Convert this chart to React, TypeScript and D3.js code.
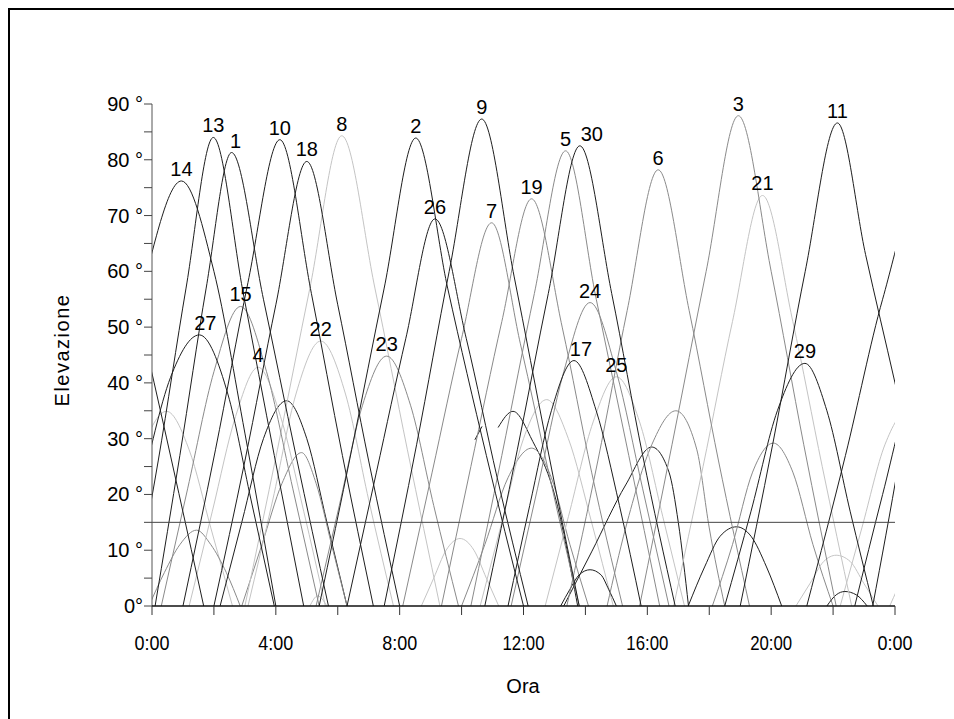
import React from "react";
import * as d3 from "d3";

type Pt = [number, number]; // [ora, elevazione in gradi]

// passaggi dei satelliti (ore, gradi)
const sv14: Pt[] = [[-2.85, 0], [-1.6, 27], [-0.4, 55], [0.95, 76.2], [2.0, 60], [3.0, 31], [4.0, 0]];
const sv14b: Pt[] = [[21.15, 0], [22.4, 27], [23.6, 55], [24.95, 76.2], [25.9, 60]];
const sv13: Pt[] = [[-0.65, 0], [0.2, 26], [1.1, 57], [1.98, 84], [2.95, 56], [3.95, 27], [4.9, 0]];
const sv13b: Pt[] = [[23.28, 0], [24.13, 26], [25.03, 57], [25.9, 84]];
const sv27: Pt[] = [[-1.3, 0], [-0.4, 20], [0.6, 41], [1.53, 48.6], [2.45, 38], [3.2, 19], [3.95, 0]];
const sv27b: Pt[] = [[22.7, 0], [23.6, 20], [24.6, 41], [25.5, 48.6]];
const sv1: Pt[] = [[0.1, 0], [0.9, 27], [1.75, 57], [2.57, 81.3], [3.6, 55], [4.65, 27], [5.7, 0]];
const sv11: Pt[] = [[19.0, 0], [20.05, 29], [21.1, 60], [22.14, 86.6], [23.05, 63], [24.0, 40], [25.6, 0]];
const sv11b: Pt[] = [[-4.93, 0], [-3.88, 29], [-2.83, 60], [-1.79, 86.6], [-0.88, 63], [0.07, 40], [1.67, 0]];
const sv10: Pt[] = [[1.0, 0], [2.05, 28], [3.1, 58], [4.13, 83.6], [5.15, 56], [6.15, 27], [7.15, 0]];
const sv18: Pt[] = [[2.0, 0], [3.0, 26], [4.0, 54], [5.0, 79.7], [6.0, 54], [7.0, 26], [8.0, 0]];
const sv8: Pt[] = [[3.0, 0], [4.05, 28], [5.1, 57], [6.13, 84.3], [7.2, 57], [8.25, 28], [9.3, 0]];
const sv2: Pt[] = [[5.4, 0], [6.45, 28], [7.5, 57], [8.52, 83.9], [9.55, 57], [10.8, 27], [12.0, 0]];
const sv26: Pt[] = [[6.3, 0], [7.25, 24], [8.2, 48], [9.14, 69.4], [10.15, 48], [11.15, 23], [12.15, 0]];
const sv9: Pt[] = [[7.5, 0], [8.55, 29], [9.6, 60], [10.65, 87.3], [11.7, 59], [12.75, 29], [13.8, 0]];
const sv7: Pt[] = [[8.1, 0], [9.05, 24], [10.0, 48], [10.97, 68.7], [11.9, 47], [12.85, 23], [13.8, 0]];
const sv19: Pt[] = [[9.35, 0], [10.3, 25], [11.3, 51], [12.26, 73], [13.25, 50], [14.2, 24], [15.2, 0]];
const sv5: Pt[] = [[10.3, 0], [11.3, 27], [12.35, 56], [13.36, 81.6], [14.35, 55], [15.4, 27], [16.4, 0]];
const sv30: Pt[] = [[10.75, 0], [11.8, 28], [12.8, 56], [13.82, 82.5], [14.85, 56], [15.85, 27], [16.9, 0]];
const sv24: Pt[] = [[11.6, 0], [12.45, 21], [13.3, 42], [14.15, 54.4], [15.0, 42], [15.85, 21], [16.7, 0]];
const sv6: Pt[] = [[13.4, 0], [14.4, 26], [15.35, 53], [16.35, 78.2], [17.35, 53], [18.3, 26], [19.3, 0]];
const sv3: Pt[] = [[15.75, 0], [16.8, 29], [17.9, 60], [18.94, 87.9], [20.0, 60], [21.05, 29], [22.1, 0]];
const sv21: Pt[] = [[16.85, 0], [17.8, 25], [18.75, 51], [19.72, 73.6], [20.7, 51], [21.65, 25], [22.6, 0]];
const sv15: Pt[] = [[0.3, 0], [1.15, 21], [2.0, 42], [2.86, 53.7], [3.7, 42], [4.55, 21], [5.4, 0]];
const sv4: Pt[] = [[1.2, 0], [1.95, 17], [2.7, 34], [3.43, 42.8], [4.15, 34], [4.9, 17], [5.6, 0]];
const sv22: Pt[] = [[3.1, 0], [3.9, 19], [4.65, 38], [5.45, 47.5], [6.25, 38], [7.0, 19], [7.8, 0]];
const sv23: Pt[] = [[5.3, 0], [6.05, 18], [6.8, 36], [7.58, 44.8], [8.35, 36], [9.1, 18], [9.9, 0]];
const sv17: Pt[] = [[11.5, 0], [12.2, 18], [12.9, 35], [13.63, 44], [14.35, 35], [15.1, 18], [15.8, 0]];
const sv25: Pt[] = [[12.7, 0], [13.45, 16], [14.25, 33], [15.0, 41.1], [15.75, 33], [16.5, 16], [17.2, 0]];
const sv29: Pt[] = [[18.5, 0], [19.35, 17], [20.2, 35], [21.09, 43.5], [21.8, 35], [22.55, 17], [23.3, 0]];

// passaggi senza etichetta
const passA: Pt[] = [[-1.7, 0], [-1.0, 14], [-0.25, 29], [0.47, 34.9], [1.2, 28], [1.9, 14], [2.6, 0]];
const passAb: Pt[] = [[22.23, 0], [22.93, 14], [23.68, 29], [24.4, 34.9], [25.13, 28]];
const passB: Pt[] = [[-0.1, 0], [0.4, 6], [0.9, 11], [1.44, 13.6], [1.9, 11], [2.4, 6], [2.85, 0]];
const passBb: Pt[] = [[23.83, 0], [24.33, 6], [24.83, 11]];
const passC: Pt[] = [[2.2, 0], [2.9, 15], [3.6, 30], [4.35, 36.8], [5.0, 30], [5.65, 15], [6.3, 0]];
const passD: Pt[] = [[2.9, 0], [3.55, 11], [4.2, 22], [4.83, 27.5], [5.3, 22], [5.8, 11], [6.3, 0]];
const passE: Pt[] = [[5.1, 0], [5.35, 1.8], [5.65, 0]];
const passF1: Pt[] = [[10.43, 29.8], [10.66, 32.2]];
const passF2: Pt[] = [[11.18, 32], [11.66, 34.9], [12.3, 29.5], [12.95, 21], [13.75, 0]];
const passG: Pt[] = [[10.0, 0], [10.75, 11], [11.5, 23], [12.26, 28.3], [12.9, 23], [13.5, 11], [14.1, 0]];
const passH: Pt[] = [[10.6, 0], [11.3, 15], [12.0, 30], [12.75, 37], [13.45, 30], [14.2, 15], [14.9, 0]];
const passI: Pt[] = [[8.7, 0], [9.1, 5], [9.5, 10], [9.95, 12.1], [10.4, 10], [10.8, 5], [11.2, 0]];
const passJ: Pt[] = [[13.2, 0], [13.5, 3], [13.8, 5.6], [14.15, 6.5], [14.5, 5.6], [14.75, 3], [15.0, 0]];
const passK: Pt[] = [[13.3, 0], [14.2, 9.7], [15.3, 21.7], [16.14, 28.5], [16.7, 24], [17.0, 15], [17.33, 0]];
const passL: Pt[] = [[14.7, 0], [15.3, 14], [16.15, 29], [16.92, 35], [17.6, 28], [18.0, 14], [18.5, 0]];
const passM: Pt[] = [[17.32, 0], [17.85, 7], [18.35, 12.5], [18.88, 14.2], [19.35, 12.5], [19.85, 7], [20.34, 0]];
const passN: Pt[] = [[18.1, 0], [18.75, 11], [19.4, 24], [20.07, 29.2], [20.7, 24], [21.35, 11], [22.0, 0]];
const passO: Pt[] = [[20.8, 0], [21.25, 4], [21.7, 8], [22.1, 9.1], [22.55, 8], [23.0, 4], [23.45, 0]];
const passP: Pt[] = [[21.8, 0], [22.1, 2], [22.38, 2.6], [22.75, 2], [23.1, 0]];

const hourTicks = [0, 2, 4, 6, 8, 10, 12, 14, 16, 18, 20, 22, 24];
const hourLabels = ["0:00", "4:00", "8:00", "12:00", "16:00", "20:00", "0:00"];
const elevTicks = [0, 5, 10, 15, 20, 25, 30, 35, 40, 45, 50, 55, 60, 65, 70, 75, 80, 85, 90];
const maskAngle = 15;

const tone = { k: "#1e1e1e", g: "#8a8a8a", l: "#c4c4c4" };

const passes: { pts: Pt[]; c: keyof typeof tone; label?: string; dx?: number }[] = [
  { pts: passA, c: "l" }, { pts: passAb, c: "l" }, { pts: passB, c: "g" }, { pts: passBb, c: "l" },
  { pts: passC, c: "k" }, { pts: passD, c: "g" }, { pts: passE, c: "l" },
  { pts: passF1, c: "k" }, { pts: passF2, c: "k" }, { pts: passG, c: "g" }, { pts: passH, c: "l" },
  { pts: passI, c: "l" }, { pts: passJ, c: "k" }, { pts: passK, c: "k" }, { pts: passL, c: "g" },
  { pts: passM, c: "k" }, { pts: passN, c: "g" }, { pts: passO, c: "l" }, { pts: passP, c: "k" },
  { pts: sv8, c: "l", label: "8" }, { pts: sv21, c: "l", label: "21" }, { pts: sv4, c: "l", label: "4" },
  { pts: sv22, c: "l", label: "22" }, { pts: sv25, c: "l", label: "25" },
  { pts: sv7, c: "g", label: "7" }, { pts: sv19, c: "g", label: "19" }, { pts: sv5, c: "g", label: "5" },
  { pts: sv24, c: "g", label: "24" }, { pts: sv6, c: "g", label: "6" }, { pts: sv3, c: "g", label: "3" },
  { pts: sv15, c: "g", label: "15" }, { pts: sv23, c: "g", label: "23" },
  { pts: sv14, c: "k", label: "14" }, { pts: sv14b, c: "k" }, { pts: sv13, c: "k", label: "13" },
  { pts: sv13b, c: "k" }, { pts: sv27, c: "k", label: "27", dx: 6 }, { pts: sv27b, c: "k" },
  { pts: sv1, c: "k", label: "1", dx: 4 }, { pts: sv11, c: "k", label: "11" }, { pts: sv11b, c: "k" },
  { pts: sv10, c: "k", label: "10" }, { pts: sv18, c: "k", label: "18" }, { pts: sv2, c: "k", label: "2" },
  { pts: sv26, c: "k", label: "26" }, { pts: sv9, c: "k", label: "9" }, { pts: sv30, c: "k", label: "30", dx: 12 },
  { pts: sv17, c: "k", label: "17", dx: 7 }, { pts: sv29, c: "k", label: "29" },
];

const W = 954;
const H = 719;
const font = "'Liberation Sans', Arial, sans-serif";

export default function App() {
  const x = d3.scaleLinear().domain([0, 24]).range([152, 895]);
  const y = d3.scaleLinear().domain([0, 90]).range([606, 104]);
  const line = d3
    .line<Pt>()
    .x((d) => x(d[0]))
    .y((d) => y(d[1]))
    .curve(d3.curveMonotoneX);

  return (
    <svg
      width={W}
      height={H}
      style={{ position: "absolute", left: 0, top: 0, background: "#fff", fontFamily: font }}
    >
      <defs>
        <clipPath id="plot">
          <rect x={x(0)} y={60} width={x(24) - x(0)} height={y(0) - 60 + 0.5} />
        </clipPath>
      </defs>
      {/* cornice */}
      <rect x={9} y={9} width={W + 20} height={H + 20} fill="none" stroke="#000" strokeWidth={2} />

      <g clipPath="url(#plot)">
        {passes.map((p, i) => (
          <path key={i} d={line(p.pts) || ""} fill="none" stroke={tone[p.c]} strokeWidth={1} />
        ))}
      </g>

      {/* soglia 15° */}
      <line x1={x(0)} x2={x(24)} y1={y(maskAngle)} y2={y(maskAngle)} stroke="#444" strokeWidth={1} />

      {/* asse y */}
      <line x1={x(0)} x2={x(0)} y1={y(90)} y2={y(0)} stroke="#555" strokeWidth={1} />
      {elevTicks.map((v) => (
        <g key={v}>
          <line x1={x(0) - 8} x2={x(0)} y1={y(v)} y2={y(v)} stroke="#444" strokeWidth={1} />
          {v % 10 === 0 && (
            <text x={x(0) - 9} y={y(v) + 7} textAnchor="end" fontSize={20} fill="#000">
              {v === 0 ? "0°" : `${v} °`}
            </text>
          )}
        </g>
      ))}

      {/* asse x */}
      <line x1={x(0)} x2={x(24)} y1={y(0)} y2={y(0)} stroke="#111" strokeWidth={1.5} />
      {hourTicks.map((h) => (
        <line key={h} x1={x(h)} x2={x(h)} y1={y(0)} y2={y(0) + 9} stroke="#333" strokeWidth={1} />
      ))}
      {hourLabels.map((t, i) => (
        <text
          key={i}
          x={x(i * 4)}
          y={650}
          textAnchor="middle"
          fontSize={20}
          fill="#000"
          textLength={t.length > 4 ? 42 : 35}
          lengthAdjust="spacingAndGlyphs"
        >
          {t}
        </text>
      ))}

      {/* etichette satelliti */}
      {passes
        .filter((p) => p.label)
        .map((p) => {
          const top = p.pts.reduce((a, b) => (b[1] > a[1] ? b : a));
          return (
            <text
              key={p.label}
              x={x(top[0]) + (p.dx || 0)}
              y={y(top[1]) - 5}
              textAnchor="middle"
              fontSize={20}
              fill="#000"
            >
              {p.label}
            </text>
          );
        })}

      <text x={523} y={693} textAnchor="middle" fontSize={20} fill="#000">
        Ora
      </text>
      <text
        transform="translate(69,350) rotate(-90)"
        textAnchor="middle"
        fontSize={20}
        letterSpacing={1.5}
        fill="#000"
      >
        Elevazione
      </text>
    </svg>
  );
}
